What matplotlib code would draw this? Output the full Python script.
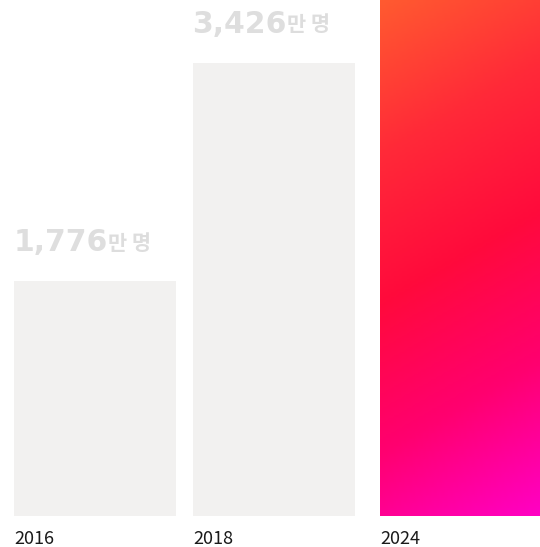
import numpy as np
import matplotlib.pyplot as plt
from matplotlib.colors import LinearSegmentedColormap

plt.rcParams['font.family'] = ['Noto Sans CJK KR', 'DejaVu Sans']

years = ["2016", "2018", "2024"]
values = [1776, 3426, 3900]          # 만 명; 2024 bar runs off the top
labels = ["1,776", "3,426", None]
unit = "만 명"

# layout (pixels)
W, H = 540, 547
bar_left = [14, 193, 380]
bar_width = [162, 162, 162]
base_px = 31
ymax = 3900

fig = plt.figure(figsize=(W / 100, H / 100), dpi=100)
ax = fig.add_axes([0, base_px / H, 1, 1 - base_px / H])
ax.set_xlim(0, W)
ax.set_ylim(0, ymax)
ax.axis("off")

bars = ax.bar(bar_left, values, width=bar_width, align="edge",
              color="#f2f1f0", linewidth=0)

# gradient fill for the last bar
grad = LinearSegmentedColormap.from_list(
    "g", ["#ff5a30", "#ff2a38", "#ff0a3c", "#ff0070", "#ff00c4"])
gx, gy = np.meshgrid(np.linspace(0, 1, 60), np.linspace(0, 1, 200))
gz = (1 - gy) * 0.85 + gx * 0.15
b = bars[2]
b.set_facecolor("none")
im = ax.imshow(gz, cmap=grad, aspect="auto", origin="lower",
               extent=[b.get_x(), b.get_x() + b.get_width(), 0, ymax],
               vmin=0, vmax=1, zorder=2)
im.set_clip_path(b)

fig.canvas.draw()
for i, lab in enumerate(labels):
    if lab is None:
        continue
    t = ax.annotate(lab, xy=(bar_left[i], values[i]), xytext=(-0.5, 21.5),
                    textcoords="offset points", fontsize=21.5, fontweight="bold",
                    family="DejaVu Sans", color="#dedede",
                    ha="left", va="baseline")
    fig.canvas.draw()
    ax.annotate(unit, xy=(1, 0), xycoords=t, xytext=(0.5, 5.5),
                textcoords="offset points", fontsize=15, fontweight="bold",
                color="#dddddd", ha="left", va="baseline")

for i, y in enumerate(years):
    ax.annotate(y, xy=(bar_left[i], 0), xytext=(0, -20),
                textcoords="offset points", fontsize=13, color="#1a1a1a",
                ha="left", va="baseline")

fig.savefig("out.png", dpi=100)
